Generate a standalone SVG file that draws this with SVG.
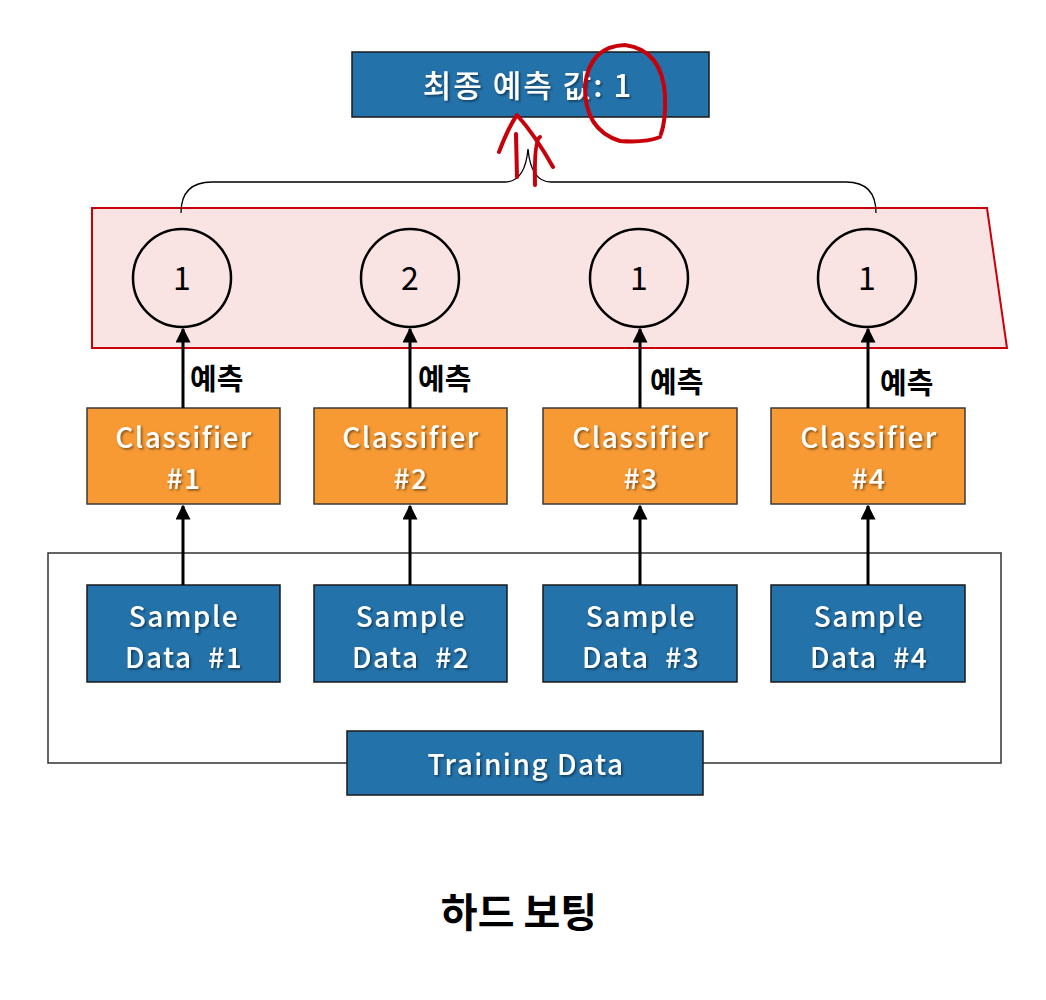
<svg xmlns="http://www.w3.org/2000/svg" width="1046" height="1000" viewBox="0 0 1046 1000">
<defs>
<style>
.blue{fill:#2372aa;stroke:#1a1a1a;stroke-width:1.5}
.orange{fill:#f79a33;stroke:#3a3a3a;stroke-width:1.5}
.wt{fill:#fff;font-family:"Noto Sans CJK KR","Noto Sans",sans-serif;font-size:28px;font-weight:500;letter-spacing:1.5px;text-anchor:middle;filter:url(#sh)}
.circ{fill:none;stroke:#000;stroke-width:2.5}
.num{font-family:"Noto Sans CJK KR","Noto Sans",sans-serif;font-size:32px;text-anchor:middle;fill:#000}
.lbl{font-family:"Noto Sans CJK KR",sans-serif;font-size:29px;font-weight:bold;fill:#000}
.ar{stroke:#000;stroke-width:3;fill:none;marker-end:url(#ah)}
.red{fill:none;stroke:#c8000a;stroke-width:4;stroke-linecap:round;stroke-linejoin:round}
</style>
<marker id="ah" viewBox="0 0 10 10" refX="9" refY="5" markerWidth="5" markerHeight="5" orient="auto" markerUnits="strokeWidth">
<path d="M0,0 L10,5 L0,10 Z" fill="#000"/>
</marker>
<filter id="sh" x="-10%" y="-10%" width="130%" height="130%">
<feDropShadow dx="1.5" dy="1.5" stdDeviation="1" flood-color="#000" flood-opacity="0.5"/>
</filter>
</defs>
<rect width="1046" height="1000" fill="#fff"/>

<g id="final">
<rect class="blue" x="352" y="52" width="357" height="65"/>
<text class="wt" x="528" y="97" style="font-size:31px;letter-spacing:2px">최종 예측 값: 1</text>
</g>

<g id="votes">
<path d="M92,208 L987,208 L1007,348 L92,348 Z" fill="#f9e3e3" stroke="#c8000a" stroke-width="2"/>
<g id="vote1"><circle class="circ" cx="182" cy="278" r="49"/><text class="num" x="182" y="290">1</text></g>
<g id="vote2"><circle class="circ" cx="410" cy="278" r="49"/><text class="num" x="410" y="290">2</text></g>
<g id="vote3"><circle class="circ" cx="639" cy="278" r="49"/><text class="num" x="639" y="290">1</text></g>
<g id="vote4"><circle class="circ" cx="867" cy="278" r="49"/><text class="num" x="867" y="290">1</text></g>
</g>

<g id="classifiers">
<g id="clf1"><rect class="orange" x="87" y="408" width="193" height="96"/><text class="wt" x="184" y="448">Classifier</text><text class="wt" x="184" y="489">#1</text></g>
<g id="clf2"><rect class="orange" x="314" y="408" width="193" height="96"/><text class="wt" x="411" y="448">Classifier</text><text class="wt" x="411" y="489">#2</text></g>
<g id="clf3"><rect class="orange" x="543" y="408" width="194" height="96"/><text class="wt" x="641" y="448">Classifier</text><text class="wt" x="641" y="489">#3</text></g>
<g id="clf4"><rect class="orange" x="771" y="408" width="194" height="96"/><text class="wt" x="869" y="448">Classifier</text><text class="wt" x="869" y="489">#4</text></g>
</g>

<g id="training-frame">
<path d="M347,763 L48,763 L48,553 L1001,553 L1001,763 L703,763" fill="none" stroke="#333" stroke-width="1.5"/>
</g>

<g id="samples">
<g id="s1"><rect class="blue" x="87" y="585" width="193" height="97"/><text class="wt" x="184" y="627">Sample</text><text class="wt" x="184" y="668" xml:space="preserve">Data  #1</text></g>
<g id="s2"><rect class="blue" x="314" y="585" width="193" height="97"/><text class="wt" x="411" y="627">Sample</text><text class="wt" x="411" y="668" xml:space="preserve">Data  #2</text></g>
<g id="s3"><rect class="blue" x="543" y="585" width="194" height="97"/><text class="wt" x="641" y="627">Sample</text><text class="wt" x="641" y="668" xml:space="preserve">Data  #3</text></g>
<g id="s4"><rect class="blue" x="771" y="585" width="194" height="97"/><text class="wt" x="869" y="627">Sample</text><text class="wt" x="869" y="668" xml:space="preserve">Data  #4</text></g>
</g>

<g id="training">
<rect class="blue" x="347" y="731" width="356" height="64"/>
<text class="wt" x="526" y="775">Training Data</text>
</g>

<g id="connectors">
<path class="ar" d="M183,585 V506"/>
<path class="ar" d="M410,585 V506"/>
<path class="ar" d="M640,585 V506"/>
<path class="ar" d="M868,585 V506"/>
<path class="ar" d="M183,408 V329"/>
<path class="ar" d="M410,408 V329"/>
<path class="ar" d="M640,408 V329"/>
<path class="ar" d="M868,408 V329"/>
<path d="M181,213 Q181,182 212,182 L505,182 Q525,182 528,149 Q531,182 551,182 L846,182 Q876,182 876,213" fill="none" stroke="#000" stroke-width="1.3"/>
<text class="lbl" x="190" y="390">예측</text>
<text class="lbl" x="418" y="390">예측</text>
<text class="lbl" x="650" y="393">예측</text>
<text class="lbl" x="880" y="394">예측</text>
</g>

<g id="annotation">
<path class="red" d="M499,152 Q508,128 517,115 Q535,135 553,167"/>
<path class="red" d="M516,134 L517,177"/>
<path class="red" d="M540,137 Q534,140 535,185"/>
<path class="red" d="M661,134 Q666,120 665,95 Q662,50 625,45 Q590,46 585,85 Q584,130 620,141 Q645,143 660,137"/>
</g>

<text x="519" y="927" font-family="'Noto Sans CJK KR',sans-serif" font-size="40" font-weight="bold" text-anchor="middle" fill="#000">하드 보팅</text>
</svg>
